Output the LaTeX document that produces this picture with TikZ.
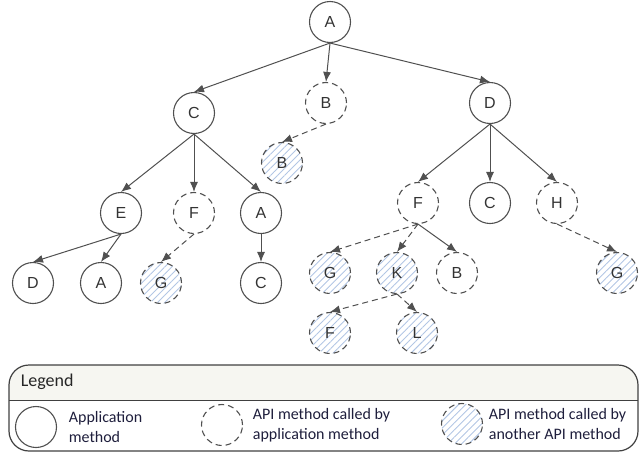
\documentclass[tikz,border=0pt]{standalone}
\usepackage{fontspec}
\setmainfont{Liberation Sans}
\newfontfamily\legendfont{Carlito}
\usetikzlibrary{arrows.meta, positioning, patterns.meta}

\definecolor{edgegray}{HTML}{505050}
\definecolor{hatch}{HTML}{B2C6E4}
\definecolor{legendbg}{HTML}{F6F6F1}
\definecolor{legendtext}{HTML}{1E1E3C}

\tikzset{
  app/.style={circle, draw=edgegray, line width=1.1pt, minimum size=41pt, inner sep=0pt,
    font=\fontsize{16}{19}\selectfont, text=black!80},
  api/.style={app, dash pattern=on 6pt off 4pt},
  apix/.style={api, pattern={Lines[angle=45,distance=5pt,line width=0.9pt]}, pattern color=hatch},
  call/.style={dash pattern=on 6pt off 4pt},
  legendlabel/.style={align=left, text=legendtext, font=\legendfont\fontsize{16}{20}\selectfont}
}

\begin{document}
\begin{tikzpicture}[x=1pt,y=-1pt,->,>={Latex[length=10pt,width=8pt]},draw=edgegray,line width=1pt]
                \useasboundingbox (0,0) rectangle (644,453);
                % call tree
                \node[app] (0) at (330,22) {A};
                \node[app] (1) at (194,113) {C};
                \node[api] (2) at (326,103) {B};
                \node[app] (3) at (490,103) {D};
                \node[apix] (4) at (282,163) {B};
                \node[app] (5) at (121,213) {E};
                \node[api] (6) at (194,213) {F};
                \node[app] (7) at (261,213) {A};
                \node[app] (8) at (33,283) {D};
                \node[app] (9) at (101,283) {A};
                \node[apix] (10) at (161,283) {G};
                \node[app] (11) at (261,283) {C};
                \node[api] (12) at (418,203) {F};
                \node[app] (13) at (490,203) {C};
                \node[api] (14) at (557,203) {H};
                \node[apix] (15) at (330,273) {G};
                \node[apix] (16) at (397,273) {K};
                \node[api] (17) at (457,273) {B};
                \node[apix] (18) at (617,273) {G};
                \node[apix] (19) at (330,333) {F};
                \node[apix] (20) at (417,333) {L};
                \path
                (0.south) edge (1.north)
                          edge (2.north)
                          edge (3.north)
                (2.south) edge [call] (4.north)
                (1.south) edge (5.north)
                          edge (6.north)
                          edge (7.north)
                (5.south) edge (8.north)
                          edge (9.north)
                (6.south) edge [call] (10.north)
                (7.south) edge (11.north)
                (3.south) edge (12.north)
                          edge (13.north)
                          edge (14.north)
                (12.south) edge [call] (15.north)
                           edge [call] (16.north)
                           edge (17.north)
                (14.south) edge [call] (18.north)
                (16.south) edge [call] (19.north)
                           edge [call] (20.north)
                ;
                % legend
                \begin{scope}[-]
                \begin{scope}
                \clip[rounded corners=20pt] (9,365) rectangle (638,451);
                \fill[legendbg] (9,365) rectangle (638,400);
                \end{scope}
                \draw[rounded corners=20pt, draw=black!75, line width=1.2pt] (9,365) rectangle (638,451);
                \draw[draw=black!75, line width=1pt] (9,400) -- (638,400);
                \node[anchor=west, text=black!85, font=\legendfont\fontsize{18}{20}\selectfont] (legend) at (17,382) {Legend};
                \node[app] (appkey) at (36,427) {};
                \node[legendlabel, right=8pt of appkey] (appkeytext) {Application\\method};
                \node[api] (apikey) at (222,425) {};
                \node[legendlabel, right=6pt of apikey] (apikeytext) {API method called by\\application method};
                \node[apix] (apixkey) at (462,424) {};
                \node[legendlabel, right=2pt of apixkey] (apixkeytext) {API method called by\\another API method};
                \end{scope}
            \end{tikzpicture}
\end{document}
